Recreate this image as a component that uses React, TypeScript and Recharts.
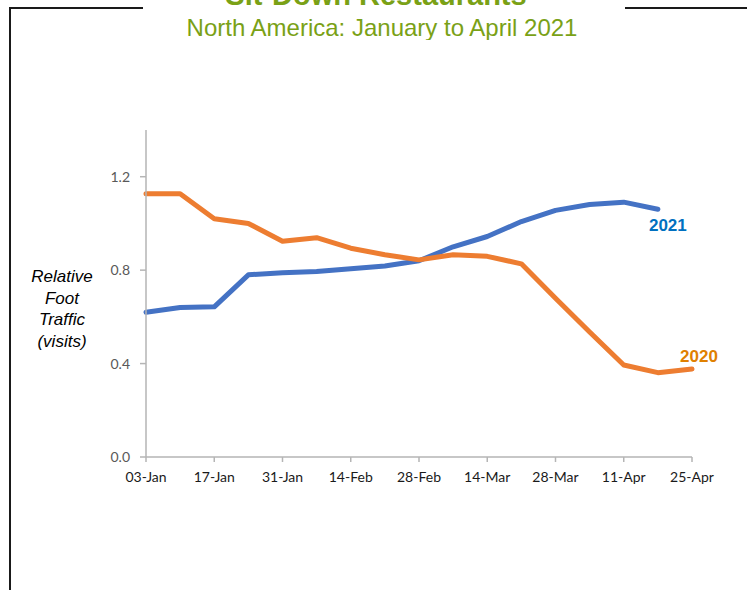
import React from 'react';
import { LineChart, Line, XAxis, YAxis, Label } from 'recharts';

const categories = ['03-Jan', '10-Jan', '17-Jan', '24-Jan', '31-Jan', '07-Feb', '14-Feb', '21-Feb', '28-Feb', '07-Mar', '14-Mar', '21-Mar', '28-Mar', '04-Apr', '11-Apr', '18-Apr', '25-Apr'];
const visits2021: (number | null)[] = [0.62, 0.64, 0.643, 0.78, 0.789, 0.794, 0.806, 0.818, 0.84, 0.9, 0.944, 1.008, 1.056, 1.081, 1.091, 1.061, null];
const visits2020: (number | null)[] = [1.127, 1.127, 1.02, 1.0, 0.924, 0.939, 0.894, 0.866, 0.844, 0.866, 0.859, 0.827, 0.68, 0.535, 0.394, 0.361, 0.377];
const yTicks = [0, 0.4, 0.8, 1.2];
const seriesNames = ['2021', '2020'];
const titleText = 'Sit-Down Restaurants';
const subtitleText = 'North America: January to April 2021';
const yLabelLines = ['Relative', 'Foot', 'Traffic', '(visits)'];

const data = categories.map((c, i) => ({ date: c, y2021: visits2021[i], y2020: visits2020[i] }));

const lastIdx = (arr: (number | null)[]) => {
  let k = -1;
  arr.forEach((v, i) => { if (v !== null && v !== undefined) k = i; });
  return k;
};

const makeEndLabel = (name: string, arr: (number | null)[], color: string, dx: number, dy: number) => (props: any) => {
  const { x, y, index } = props;
  if (index !== lastIdx(arr)) return null;
  return (
    <text x={x + dx} y={y + dy} textAnchor="middle" fill={color} fontFamily="Liberation Sans, Arial, sans-serif" fontWeight="bold" fontSize={17}>
      {name}
    </text>
  );
};

const YLabel = () => {
  return (
    <text textAnchor="middle" fontFamily="Liberation Sans, Arial, sans-serif" fontStyle="italic" fontSize={17} fill="#000">
      {yLabelLines.map((l, i) => (
        <tspan key={i} x={62} y={282 + i * 21.5}>{l}</tspan>
      ))}
    </text>
  );
};

export default function App() {
  return (
    <div style={{ position: 'absolute', left: 0, top: 0, width: 747, height: 590, overflow: 'hidden', background: '#fff' }}>
      <div style={{ position: 'absolute', left: 9, top: 7, width: 134, height: 2, background: '#1a1a1a' }} />
      <div style={{ position: 'absolute', left: 625, top: 7, width: 130, height: 2, background: '#1a1a1a' }} />
      <div style={{ position: 'absolute', left: 9, top: 7, width: 2, height: 600, background: '#1a1a1a' }} />
      <svg style={{ position: 'absolute', left: 0, top: 0 }} width={747} height={40}>
        <text x={376} y={5} textAnchor="middle" fontFamily="Liberation Sans, Arial, sans-serif" fontWeight="bold" fontSize={29} fill="#7AA116">
          {titleText}
        </text>
        <text x={382} y={35.5} textAnchor="middle" fontFamily="Liberation Sans, Arial, sans-serif" fontSize={24} fill="#7AA116">
          {subtitleText}
        </text>
      </svg>
      <div style={{ position: 'absolute', left: 0, top: 0 }}>
        <LineChart width={747} height={590} data={data} margin={{ top: 130, right: 55, left: 106, bottom: 103 }}>
          <XAxis
            dataKey="date"
            interval={1}
            padding={{ left: 0, right: 0 }}
            stroke="#B5B5B5"
            strokeWidth={1.5}
            tickSize={5}
            tickMargin={10}
            tick={{ fill: '#1a1a1a', fontSize: 14, fontFamily: 'Lato, sans-serif' }}
            height={30}
          />
          <YAxis
            domain={[0, 1.4]}
            ticks={yTicks}
            width={40}
            stroke="#B5B5B5"
            strokeWidth={1.5}
            tickSize={6}
            tickMargin={10}
            tickFormatter={(v: number) => v.toFixed(1)}
            tick={{ fill: '#595959', fontSize: 14, fontFamily: 'Lato, sans-serif' }}
          >
            <Label content={YLabel} />
          </YAxis>
          <Line
            dataKey="y2021"
            stroke="#4472C4"
            strokeWidth={5}
            strokeLinecap="round"
            strokeLinejoin="round"
            dot={false}
            activeDot={false}
            isAnimationActive={false}
            connectNulls={false}
            label={makeEndLabel(seriesNames[0], visits2021, '#0070C0', 10, 22)}
          />
          <Line
            dataKey="y2020"
            stroke="#ED7D31"
            strokeWidth={5}
            strokeLinecap="round"
            strokeLinejoin="round"
            dot={false}
            activeDot={false}
            isAnimationActive={false}
            label={makeEndLabel(seriesNames[1], visits2020, '#E08000', 7, -7)}
          />
        </LineChart>
      </div>
    </div>
  );
}
